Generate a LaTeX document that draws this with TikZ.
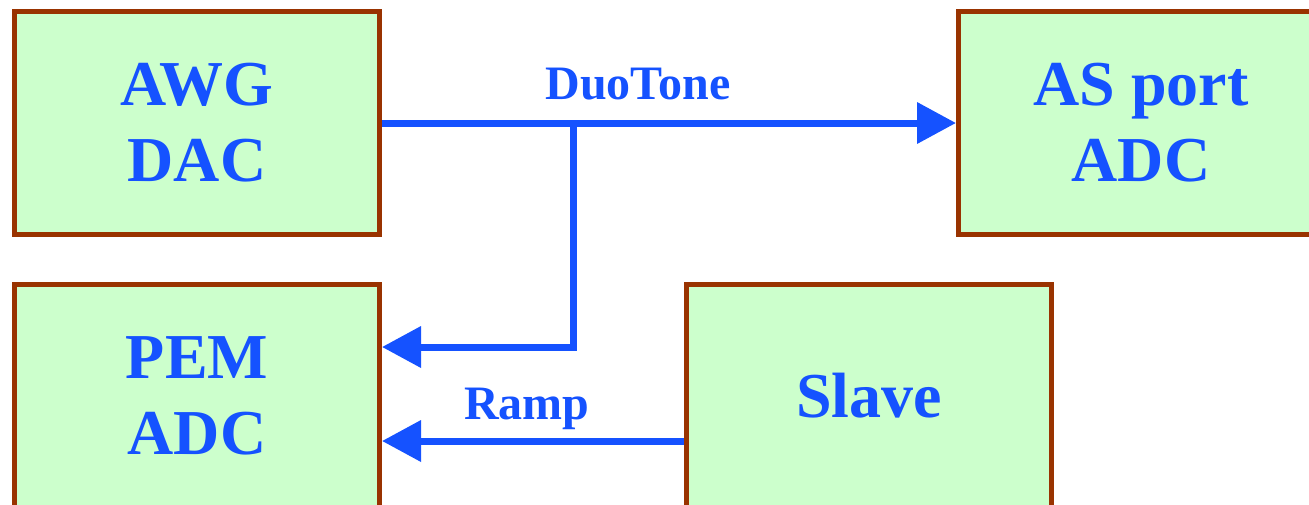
\documentclass[tikz,border=0pt]{standalone}
\usepackage{fontspec}
\setmainfont{Liberation Serif}
\usetikzlibrary{arrows.meta}
\definecolor{boxfill}{HTML}{CCFFCC}
\definecolor{boxline}{HTML}{993300}
\definecolor{sigblue}{HTML}{1552FF}

\begin{document}
\begin{tikzpicture}[x=1pt,y=-1pt,
	unit/.style={draw=boxline,fill=boxfill,line width=5pt,minimum width=365pt,minimum height=223pt,
		text=sigblue,align=center,font=\fontsize{64}{76}\selectfont\bfseries},
	sig/.style={draw=sigblue,line width=7pt,-{Triangle[length=39pt,width=40pt]}},
	siglabel/.style={text=sigblue,anchor=base,font=\fontsize{48}{50}\selectfont\bfseries}]
\useasboundingbox (0,0) rectangle (1309,504);
\clip (0,0) rectangle (1309,504);

\node[unit] (awg) at (197,123) {AWG\\DAC};
\node[unit] (asport) at (1141,123) {AS port\\ADC};
\node[unit] (pem) at (197,396) {PEM\\ADC};
\node[unit] (slave) at (869,396) {Slave};

% duotone out to AS port, tapped down to PEM
\coordinate (tap) at (573,123);
\draw[sig] (awg.east) -- (asport.west);
\draw[sig] (tap) |- ([yshift=49pt]pem.east);
\node[siglabel] (duo) at (638,99) {DuoTone};

% ramp from slave
\draw[sig] ([yshift=-45pt]slave.west) -- ([yshift=-45pt]pem.east);
\node[siglabel] (ramp) at (527,419) {Ramp};
\end{tikzpicture}
\end{document}
